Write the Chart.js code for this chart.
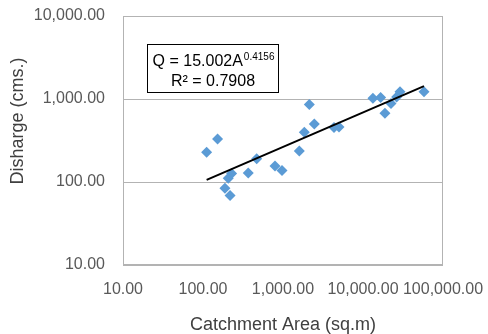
<!DOCTYPE html>
<html>
<head>
<meta charset="utf-8">
<script src="https://cdn.jsdelivr.net/npm/chart.js@4.4.0/dist/chart.umd.min.js"></script>
<style>
  body { margin: 0; background: #fff; }
</style>
</head>
<body>
<canvas id="chart" width="488" height="334"></canvas>
<script>
// catchment area (sq.m) and discharge (cms.) for each gauged site
var area = [111, 152, 228, 207, 188, 218, 368, 469, 794, 972, 1600, 1846, 2132, 2461,
            4340, 5010, 13300, 16600, 18800, 22400, 26300, 29000, 57900];
var discharge = [228, 330, 127, 111, 84, 69, 128, 191, 156, 138, 236, 397, 859, 500,
                 454, 460, 1020, 1040, 673, 880, 1060, 1225, 1225];

var xTicks = [10, 100, 1000, 10000, 100000];
var yTicks = [10, 100, 1000, 10000];

// power trendline Q = a * A^b
var coefA = 15.002;
var expB = 0.4156;
var rSquared = 0.7908;

var minArea = Math.min.apply(null, area);
var maxArea = Math.max.apply(null, area);
var trend = [minArea, maxArea].map(function (x) {
  return { x: x, y: coefA * Math.pow(x, expB) };
});

var points = area.map(function (x, i) { return { x: x, y: discharge[i] }; });

var FONT = '"Liberation Sans", Arial, sans-serif';

function fmt(v) {
  return v.toLocaleString('en-US', { minimumFractionDigits: 2, maximumFractionDigits: 2 });
}

var decorations = {
  id: 'decorations',
  beforeDatasetsDraw: function (chart) {
    var ctx = chart.ctx, a = chart.chartArea;
    ctx.save();
    ctx.strokeStyle = '#b3b3b3';
    ctx.lineWidth = 1;
    ctx.strokeRect(Math.round(a.left) + 0.5, Math.round(a.top) + 0.5,
                   Math.round(a.right - a.left) - 1, Math.round(a.bottom - a.top) - 1);
    ctx.restore();
  },
  afterDraw: function (chart) {
    var ctx = chart.ctx, a = chart.chartArea;
    ctx.save();
    ctx.fillStyle = '#404040';
    ctx.font = '18px ' + FONT;
    ctx.textAlign = 'center';
    ctx.textBaseline = 'middle';
    ctx.fillText('Catchment Area (sq.m)', (a.left + a.right) / 2, 325);
    ctx.save();
    ctx.translate(18, 121);
    ctx.rotate(-Math.PI / 2);
    ctx.fillText('Disharge (cms.)', 0, 0);
    ctx.restore();

    // trendline equation box
    ctx.fillStyle = '#fff';
    ctx.fillRect(147.5, 44.5, 131, 48);
    ctx.strokeStyle = '#000';
    ctx.lineWidth = 1;
    ctx.strokeRect(147.5, 44.5, 131, 48);

    ctx.fillStyle = '#000';
    ctx.textBaseline = 'alphabetic';
    var main = 'Q = ' + coefA.toFixed(3) + 'A';
    var sup = String(expB);
    ctx.font = '16px ' + FONT;
    var wMain = ctx.measureText(main).width;
    ctx.font = '10px ' + FONT;
    var wSup = ctx.measureText(sup).width;
    var x0 = 213 - (wMain + wSup) / 2;
    ctx.textAlign = 'left';
    ctx.font = '16px ' + FONT;
    ctx.fillText(main, x0, 66);
    ctx.font = '10px ' + FONT;
    ctx.fillText(sup, x0 + wMain + 1, 60);
    ctx.font = '16px ' + FONT;
    ctx.textAlign = 'center';
    ctx.fillText('R\u00b2 = ' + rSquared.toFixed(4), 213, 86);
    ctx.restore();
  }
};

new Chart(document.getElementById('chart'), {
  type: 'scatter',
  data: {
    datasets: [{
      type: 'line',
      data: trend,
      borderColor: '#000',
      borderWidth: 2,
      pointRadius: 0,
      fill: false,
      order: 0
    }, {
      data: points,
      backgroundColor: '#5b9bd5',
      borderColor: '#5b9bd5',
      borderWidth: 0,
      pointStyle: 'rectRot',
      pointRadius: 5.5,
      order: 1
    }]
  },
  options: {
    responsive: false,
    animation: false,
    layout: { padding: { left: 0, top: 16, right: 45, bottom: 0 } },
    plugins: { legend: { display: false }, tooltip: { enabled: false } },
    scales: {
      x: {
        type: 'logarithmic',
        min: 10,
        max: 100000,
        afterBuildTicks: function (s) { s.ticks = xTicks.map(function (v) { return { value: v }; }); },
        afterFit: function (s) {
          s.height = 69;
          s.paddingLeft = 0;
          s.paddingRight = 0;
        },
        grid: { display: false, drawTicks: false },
        border: { display: false },
        ticks: {
          autoSkip: false,
          padding: 15,
          maxRotation: 0,
          color: '#595959',
          font: { family: FONT, size: 16 },
          callback: function (v) { return fmt(v); }
        }
      },
      y: {
        type: 'logarithmic',
        min: 10,
        max: 10000,
        afterBuildTicks: function (s) { s.ticks = yTicks.map(function (v) { return { value: v }; }); },
        afterFit: function (s) {
          s.width = 123;
          s.paddingTop = 0;
          s.paddingBottom = 0;
        },
        grid: { color: '#b3b3b3', drawTicks: false },
        border: { display: false },
        ticks: {
          autoSkip: false,
          padding: 18,
          color: '#595959',
          font: { family: FONT, size: 16 },
          callback: function (v) { return fmt(v); }
        }
      }
    }
  },
  plugins: [decorations]
});
</script>
</body>
</html>
